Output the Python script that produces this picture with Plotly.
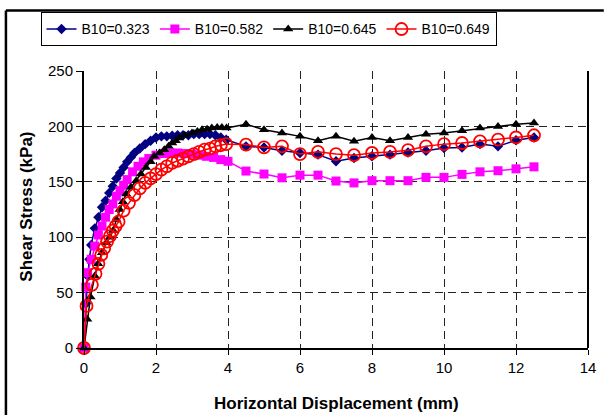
import plotly.graph_objects as go

# ---- data ----
x_b323 = [0, 0.05, 0.1, 0.15, 0.2, 0.3, 0.4, 0.5, 0.6, 0.7, 0.8, 0.9, 1.0, 1.1, 1.2, 1.3, 1.4,
          1.55, 1.7, 1.85, 2.0, 2.15, 2.3, 2.45, 2.6, 2.75, 2.9, 3.05, 3.2, 3.35, 3.5, 3.65, 3.8, 3.95,
          4.5, 5.0, 5.5, 6.0, 6.5, 7.0, 7.5, 8.0, 8.5, 9.0, 9.5, 10.0, 10.5, 11.0, 11.5, 12.0, 12.5]
y_b323 = [0, 40, 65, 80, 93, 108, 118, 127, 133, 140, 146, 153, 158, 163, 168, 172, 176,
          180, 184, 187, 190, 191, 191, 191.5, 192, 192, 192, 193, 193, 193, 193, 192, 190, 188,
          182, 181, 178, 176, 174.5, 168.5, 171.5, 173, 174.5, 176.5, 178, 180.5, 181, 184, 182, 187.5, 190]

x_b582 = [0, 0.05, 0.1, 0.2, 0.3, 0.4, 0.5, 0.6, 0.7, 0.8, 0.9, 1.0, 1.1, 1.2, 1.35, 1.5, 1.65, 1.8,
          2.0, 2.2, 2.4, 2.6, 2.8, 3.0, 3.2, 3.4, 3.6, 3.8, 4.0,
          4.5, 5.0, 5.5, 6.0, 6.5, 7.0, 7.5, 8.0, 8.5, 9.0, 9.5, 10.0, 10.5, 11.0, 11.5, 12.0, 12.5]
y_b582 = [0, 55, 68, 80, 92, 102, 110, 118, 125, 130, 137, 142, 147, 152, 159, 164, 168, 171,
          174, 175.5, 176, 176, 175.5, 175, 174, 173, 172, 170, 168.5,
          159.7, 157, 153.6, 156, 156, 150.7, 149, 151, 151, 151, 154, 154, 156.7, 159, 160, 161.7, 163.5]

x_b645 = [0, 0.09, 0.18, 0.3, 0.39, 0.5, 0.62, 0.72, 0.81, 0.9, 0.99, 1.08, 1.17, 1.3, 1.45, 1.58,
          1.72, 1.85, 1.95, 2.1, 2.23, 2.35, 2.45, 2.55, 2.64, 2.8, 3.0, 3.15, 3.28, 3.42, 3.55, 3.7,
          3.83, 3.96,
          4.5, 5.0, 5.5, 6.0, 6.5, 7.0, 7.5, 8.0, 8.5, 9.0, 9.5, 10.0, 10.5, 11.0, 11.5, 12.0, 12.5]
y_b645 = [0, 26, 46, 65, 76, 86, 95, 100, 106, 116, 125, 132, 139, 145, 151, 157,
          163, 168, 173, 176, 179, 182, 185, 187, 189.5, 192, 194, 195.5, 197, 197.5, 198.5, 199,
          199, 198.5,
          202, 197, 194, 191, 187, 191, 186.6, 190, 187, 190, 193, 194, 196, 198.6, 200, 202, 203]

x_b649 = [0, 0.07, 0.22, 0.32, 0.4, 0.48, 0.56, 0.64, 0.72, 0.8, 0.88, 0.96, 1.1, 1.25, 1.4, 1.55,
          1.7, 1.85, 2.0, 2.15, 2.3, 2.45, 2.6, 2.75, 2.9, 3.05, 3.2, 3.35, 3.5, 3.65, 3.8, 3.95,
          4.5, 5.0, 5.5, 6.0, 6.5, 7.0, 7.5, 8.0, 8.5, 9.0, 9.5, 10.0, 10.5, 11.0, 11.5, 12.0, 12.5]
y_b649 = [0, 38, 57, 67, 76, 84, 90, 96, 101, 106, 110, 114, 124, 131, 138, 144,
          149, 153, 157, 161, 164, 167, 169, 171, 173, 175, 177, 179, 180, 182, 183, 184,
          183.6, 181, 182, 175, 177, 175, 174, 176, 177, 178.5, 182, 184, 185, 186.5, 188, 190, 192]

names = ["B10=0.323", "B10=0.582", "B10=0.645", "B10=0.649"]
x_ticks = [0, 2, 4, 6, 8, 10, 12, 14]
y_ticks = [0, 50, 100, 150, 200, 250]

FONT = "Liberation Sans, Arial, sans-serif"

fig = go.Figure()
fig.add_trace(go.Scatter(x=x_b323, y=y_b323, name=names[0], mode="lines+markers",
                         line=dict(color="#000080", width=1.5),
                         marker=dict(symbol="diamond", size=8, color="#000080"),
                         cliponaxis=False))
fig.add_trace(go.Scatter(x=x_b582, y=y_b582, name=names[1], mode="lines+markers",
                         line=dict(color="#FF00FF", width=1.5),
                         marker=dict(symbol="square", size=9, color="#FF00FF"),
                         cliponaxis=False))
fig.add_trace(go.Scatter(x=x_b645, y=y_b645, name=names[2], mode="lines+markers",
                         line=dict(color="#000000", width=1.5),
                         marker=dict(symbol="triangle-up", size=9, color="#000000"),
                         cliponaxis=False))
fig.add_trace(go.Scatter(x=x_b649, y=y_b649, name=names[3], mode="lines+markers",
                         line=dict(color="#FF0000", width=1.5),
                         marker=dict(symbol="circle-open", size=12, color="#FF0000",
                                     line=dict(width=1.8, color="#FF0000")),
                         cliponaxis=False))

L, R, T, B = 84, 14, 69, 67
W, H = 608, 415
pw, ph = W - L - R, H - T - B

def px_x(p):
    return (p - L) / pw

def px_y(p):
    return (H - B - p) / ph

fig.update_layout(
    width=W, height=H,
    margin=dict(l=L, r=R, t=T, b=B, pad=0),
    paper_bgcolor="white", plot_bgcolor="white",
    font=dict(family=FONT, size=15, color="black"),
    showlegend=True,
    legend=dict(orientation="h", x=px_x(40), y=px_y(10), xanchor="left", yanchor="top",
                bordercolor="black", borderwidth=1, bgcolor="white",
                font=dict(family=FONT, size=14, color="black"),
                tracegroupgap=0, itemwidth=30),
    xaxis=dict(range=[0, 14], tickvals=x_ticks, ticktext=[str(v) for v in x_ticks],
               showgrid=True, gridcolor="#222222", griddash="8px,5px", gridwidth=1,
               showline=True, linecolor="black", linewidth=2,
               ticks="outside", ticklen=5, tickcolor="black", tickwidth=1,
               zeroline=False, tickfont=dict(size=15)),
    yaxis=dict(range=[0, 250], tickvals=y_ticks, ticktext=[str(v) for v in y_ticks],
               showgrid=True, gridcolor="#222222", griddash="8px,5px", gridwidth=1,
               showline=True, linecolor="black", linewidth=2,
               ticks="outside", ticklen=6, tickcolor="black", tickwidth=1,
               zeroline=False, tickfont=dict(size=15)),
    annotations=[
        dict(text="<b>Horizontal Displacement (mm)</b>", xref="paper", yref="paper",
             x=0.5, y=px_y(404), xanchor="center", yanchor="middle", showarrow=False,
             font=dict(family=FONT, size=17, color="black")),
        dict(text="<b>Shear Stress (kPa)</b>", xref="paper", yref="paper",
             x=px_x(25), y=px_y(206), xanchor="center", yanchor="middle", showarrow=False,
             textangle=-90, font=dict(family=FONT, size=17, color="black")),
    ],
    shapes=[
        # right border of plot area
        dict(type="line", xref="paper", yref="paper", x0=1, x1=1, y0=0, y1=1,
             line=dict(color="black", width=2)),
        # outer chart frame (left and top edges visible)
        dict(type="line", xref="paper", yref="paper", x0=px_x(5), x1=px_x(5),
             y0=px_y(416), y1=px_y(8), line=dict(color="black", width=2.5)),
        dict(type="line", xref="paper", yref="paper", x0=px_x(5), x1=px_x(610),
             y0=px_y(8), y1=px_y(8), line=dict(color="black", width=2.5)),
    ],
)

fig.write_html("out.html", config={"displayModeBar": False},
               post_script="document.body.style.margin='0px';document.body.style.overflow='hidden';")
